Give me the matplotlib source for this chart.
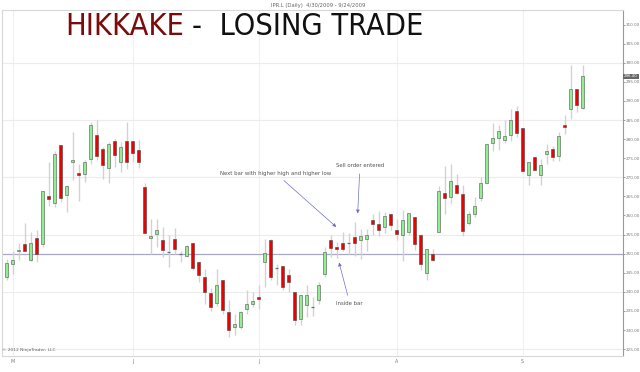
import numpy as np
import matplotlib.pyplot as plt

# daily OHLC (IPR.L, 4/30/2009 - 9/24/2009)
opens = [244.0, 247.3, 250.7, 252.6, 248.4, 254.0, 252.6, 265.2, 263.3, 278.4,
         265.3, 274.0, 271.0, 270.9, 274.8, 281.2, 277.5, 272.4, 279.4, 273.9,
         279.6, 279.4, 277.2, 267.4, 254.2, 255.2, 253.5, 250.4, 253.9, 250.0,
         249.4, 252.9, 247.7, 243.9, 239.8, 237.0, 243.0, 234.7, 230.8, 230.8,
         235.6, 236.9, 238.6, 247.8, 253.7, 246.3, 246.7, 244.5, 239.9, 232.9,
         236.6, 236.0, 237.9, 244.7, 253.7, 251.7, 252.9, 252.7, 254.3, 253.6,
         253.9, 258.7, 257.7, 256.9, 260.4, 256.1, 254.9, 255.8, 259.6, 254.8,
         244.9, 249.9, 255.6, 265.9, 264.8, 268.0, 265.5, 258.0, 260.3, 264.5,
         268.5, 278.9, 280.3, 279.8, 281.2, 287.3, 282.9, 270.7, 275.3, 270.6,
         276.2, 277.4, 275.5, 283.7, 287.9, 293.0, 288.1]
highs = [248.7, 250.8, 252.8, 258.0, 255.6, 256.1, 266.5, 274.0, 277.0, 278.4,
         268.1, 281.8, 273.5, 274.6, 284.4, 284.9, 277.9, 279.2, 280.1, 279.2,
         284.6, 279.4, 279.8, 268.5, 259.0, 259.0, 256.9, 254.8, 256.8, 250.8,
         252.4, 252.9, 248.0, 246.0, 241.1, 246.0, 243.0, 237.9, 234.2, 234.9,
         240.4, 239.9, 241.7, 253.9, 253.9, 247.3, 246.9, 246.0, 239.9, 239.2,
         241.7, 238.6, 242.5, 251.7, 254.8, 253.0, 255.8, 255.3, 258.3, 256.5,
         256.5, 260.5, 261.3, 260.9, 260.4, 259.2, 261.5, 260.7, 259.6, 255.2,
         251.3, 251.3, 267.6, 273.0, 273.4, 270.9, 267.9, 261.2, 264.9, 270.2,
         278.8, 284.2, 283.6, 284.9, 287.9, 288.8, 282.9, 274.1, 275.4, 274.8,
         278.8, 278.3, 281.8, 286.4, 299.3, 293.0, 299.3]
lows = [243.0, 244.7, 248.4, 250.6, 248.2, 247.8, 251.7, 262.6, 262.2, 263.5,
        260.9, 269.2, 263.7, 268.7, 273.5, 274.4, 269.6, 268.5, 272.7, 271.3,
        272.2, 274.0, 272.4, 255.3, 250.0, 251.7, 249.1, 246.5, 250.0, 247.8,
        249.1, 245.8, 242.5, 236.8, 235.1, 236.2, 234.2, 228.1, 228.6, 230.2,
        234.2, 236.0, 235.6, 241.2, 243.0, 241.7, 240.4, 240.0, 231.2, 231.2,
        233.4, 233.8, 236.9, 243.8, 249.1, 248.8, 250.8, 249.8, 249.5, 248.5,
        250.8, 255.0, 254.5, 255.5, 256.1, 253.5, 248.2, 254.8, 251.0, 245.6,
        243.0, 248.2, 255.6, 260.4, 263.3, 265.7, 254.6, 257.4, 259.6, 263.9,
        268.5, 277.0, 277.2, 278.9, 279.6, 280.5, 271.6, 267.9, 271.8, 267.9,
        273.5, 274.2, 274.2, 281.4, 285.3, 287.0, 287.9]
closes = [247.5, 248.4, 251.0, 250.8, 252.8, 250.0, 266.3, 264.4, 276.0, 264.6,
          267.6, 274.6, 270.6, 274.0, 283.6, 275.7, 273.1, 278.8, 275.9, 277.9,
          273.9, 276.3, 274.1, 255.4, 254.7, 256.1, 251.0, 250.4, 251.3, 250.0,
          251.9, 246.3, 244.3, 239.9, 236.0, 241.9, 235.2, 229.9, 231.5, 234.7,
          236.9, 237.5, 238.0, 250.1, 243.8, 246.3, 241.4, 242.7, 232.7, 239.2,
          239.2, 236.0, 241.8, 250.4, 251.4, 251.1, 251.1, 252.7, 252.9, 254.5,
          255.0, 257.9, 256.3, 259.9, 257.5, 255.2, 258.9, 260.7, 252.6, 247.2,
          251.3, 248.4, 266.4, 264.6, 269.0, 265.9, 255.9, 260.3, 262.6, 268.5,
          278.8, 280.2, 282.0, 280.9, 284.9, 281.6, 271.6, 274.1, 271.9, 273.3,
          277.0, 275.4, 280.9, 283.1, 293.2, 289.0, 296.4]

month_bars = [2, 22, 43, 66, 87]
month_labels = ['M', 'J', 'J', 'A', 'S']
ref_level = 250.0
inside_bar = 56
signal_bar = 57
sell_bar = 59

o = np.array(opens)
h = np.array(highs)
l = np.array(lows)
c = np.array(closes)
x = np.arange(1, len(o) + 1)

fig = plt.figure(figsize=(6.4, 3.72), dpi=100)
ax = fig.add_axes([0.003, 0.043, 0.970, 0.930])

# grid
for m in month_bars:
    ax.axvline(m, color='#f0f0f0', lw=0.8, zorder=0)
for p in range(225, 301, 15):
    ax.axhline(p, color='#ececec', lw=0.8, zorder=0)
ax.axhline(ref_level, color='#a8a8c4', lw=0.9, zorder=1)

# candles
ax.vlines(x, l, h, color='#d2d2d2', lw=1.0, zorder=2)
up = c > o
down = c < o
flat = c == o
w = 0.55
ax.bar(x[up], (c - o)[up], bottom=o[up], width=w, color='#90ee90',
       edgecolor='#555555', linewidth=0.4, zorder=3)
ax.bar(x[down], (o - c)[down], bottom=c[down], width=w, color='#ee0000',
       edgecolor='#444444', linewidth=0.4, zorder=3)
ax.hlines(c[flat], x[flat] - w / 2, x[flat] + w / 2, color='#607080', lw=0.9, zorder=3)

ax.set_xlim(0.22, 103.7)
ax.set_ylim(223.2, 313.8)

# right price axis
ax.yaxis.tick_right()
ax.set_yticks(range(225, 311, 5))
ax.set_yticklabels(['%.2f' % v for v in range(225, 311, 5)])
ax.tick_params(axis='y', labelsize=3.0, colors='#777777', length=1.5, width=0.5, pad=0.8)
ax.set_xticks(month_bars)
ax.set_xticklabels(month_labels)
ax.tick_params(axis='x', labelsize=3.4, colors='#777777', length=0, pad=2)
for s in ['left', 'top', 'bottom']:
    ax.spines[s].set_color('#d8d8d8')
    ax.spines[s].set_linewidth(0.8)
ax.spines['right'].set_color('#999999')
ax.spines['right'].set_linewidth(0.8)

# last price marker
ax.annotate('%.2f' % c[-1], xy=(1.0, c[-1]), xycoords=('axes fraction', 'data'),
            xytext=(1.0, 0), textcoords='offset points', fontsize=2.9, color='white',
            va='center', ha='left',
            bbox=dict(boxstyle='square,pad=0.2', fc='#666666', ec='none'),
            annotation_clip=False)

# annotations
arrow = dict(arrowstyle='-|>', color='#7070c8', lw=0.5, mutation_scale=5)
ax.annotate('Next bar with higher high and higher low',
            xy=(signal_bar - 0.7, h[signal_bar - 1] + 0.7), xytext=(45.9, 271.0),
            fontsize=3.9, color='#555555', ha='center', va='center', arrowprops=arrow)
ax.annotate('Sell order entered',
            xy=(sell_bar + 0.5, h[sell_bar - 1] + 1.5), xytext=(59.9, 273.0),
            fontsize=3.9, color='#555555', ha='center', va='center', arrowprops=arrow)
ax.annotate('Inside bar',
            xy=(inside_bar + 0.3, l[inside_bar - 1] - 0.4), xytext=(58.2, 237.0),
            fontsize=3.9, color='#555555', ha='center', va='center', arrowprops=arrow)

ax.text(0.0, 0.012, '\u00a9 2012 NinjaTrader, LLC', transform=ax.transAxes,
        fontsize=3.2, color='#666666', ha='left', va='bottom')

fig.text(0.497, 0.986, 'IPR.L (Daily)  4/30/2009 - 9/24/2009', fontsize=3.8,
         color='#666666', ha='center', va='center')

# big title, two colours side by side
t1 = fig.text(0.102, 0.93, 'HIKKAKE', fontsize=22, color='#7a0c0c',
              family='DejaVu Sans', fontstretch='condensed', ha='left', va='center')
fig.canvas.draw()
bb = t1.get_window_extent(fig.canvas.get_renderer())
x_next = bb.x1 / fig.bbox.width + 0.012
fig.text(x_next, 0.93, '-  LOSING TRADE', fontsize=22, color='#111111',
         family='DejaVu Sans', fontstretch='condensed', ha='left', va='center')

fig.savefig('out.png', dpi=100)
